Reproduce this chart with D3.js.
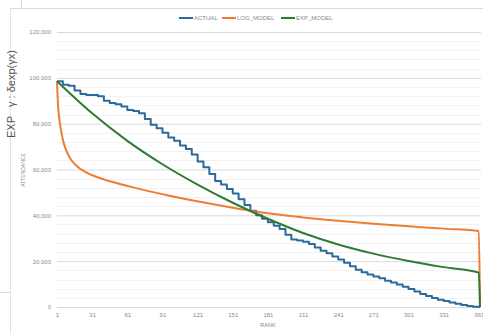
<!DOCTYPE html>
<html>
<head>
<meta charset="utf-8">
<script src="https://cdn.jsdelivr.net/npm/d3@7"></script>
<style>
    body { margin: 0; background: #fff; }
    text { font-family: "Liberation Sans", Arial, sans-serif; }
</style>
</head>
<body>
<div id="chart-area"></div>
<script>
/*
*    attendance vs rank, actual and two fitted models
*/

const yTicks = [0, 20000, 40000, 60000, 80000, 100000, 120000];
const xTicks = [1, 31, 61, 91, 121, 151, 181, 211, 241, 271, 301, 331, 361];
const seriesNames = ["ACTUAL", "LOG_MODEL", "EXP_MODEL"];

// ACTUAL sampled every 5 ranks (plus last rank)
const actualRank = [1, 6, 11, 16, 21, 26, 31, 36, 41, 46, 51, 56, 61, 66, 71, 76, 81, 86, 91, 96,
    101, 106, 111, 116, 121, 126, 131, 136, 141, 146, 151, 156, 161, 166, 171, 176, 181, 186, 191, 196,
    201, 206, 211, 216, 221, 226, 231, 236, 241, 246, 251, 256, 261, 266, 271, 276, 281, 286, 291, 296,
    301, 306, 311, 316, 321, 326, 331, 336, 341, 346, 351, 356, 361, 362];
const actualValue = [98500, 97000, 96500, 94500, 93000, 92500, 92500, 92000, 90000, 89000, 88500, 87500, 86000, 85500, 84500, 82000, 79500, 78000, 76000, 74000,
    72500, 70500, 69000, 66500, 63500, 61000, 58000, 55000, 53500, 51500, 49500, 47000, 44500, 42000, 40000, 38500, 37000, 35500, 34000, 31500,
    29500, 29000, 28500, 27500, 26000, 24500, 23500, 22000, 20700, 19300, 17800, 16300, 15200, 14200, 13300, 12500, 11500, 10700, 9800, 8800,
    7900, 6800, 5700, 4800, 3900, 3200, 2600, 2000, 1400, 900, 400, 100, 0, 0];

const logRank = [1, 2, 3, 4, 5, 6, 8, 11, 14, 19, 25, 38, 51, 66, 95, 123, 157, 181, 211, 241, 271, 301, 331, 361, 362];
const logValue = [98500, 87000, 82000, 78500, 75500, 73000, 69500, 66000, 63600, 61000, 59000, 56200, 54200, 52200, 48800, 45900, 42800, 40900, 39100, 37600, 36300, 35200, 34200, 33200, 0];

const expRank = [1, 31, 61, 91, 121, 151, 181, 211, 241, 271, 301, 331, 361, 362];
const expValue = [98500, 84500, 72500, 62300, 53400, 45500, 38500, 32300, 27300, 23300, 20100, 17400, 15000, 0];

const colors = ["#2c6a9c", "#ed7d31", "#317a33"];

const W = 483, H = 334;
const svg = d3.select("#chart-area").append("svg")
    .attr("width", W)
    .attr("height", H);

// cell / chart-frame leftovers of the screenshot
svg.append("line").attr("x1", 10).attr("x2", W).attr("y1", 8.5).attr("y2", 8.5)
    .attr("stroke", "#d9d9d9");
svg.append("line").attr("x1", 10.5).attr("x2", 10.5).attr("y1", 8).attr("y2", H)
    .attr("stroke", "#e3e3e3");
svg.append("line").attr("x1", 21.5).attr("x2", 21.5).attr("y1", 0).attr("y2", 8)
    .attr("stroke", "#d9d9d9");
svg.append("line").attr("x1", 0).attr("x2", 10).attr("y1", 292.5).attr("y2", 292.5)
    .attr("stroke", "#d9d9d9");

svg.append("text")
    .attr("transform", "translate(15, 138) rotate(-90)")
    .attr("font-size", 11)
    .attr("fill", "#555")
    .text("EXP");
svg.append("text")
    .attr("transform", "translate(15, 107) rotate(-90)")
    .attr("font-size", 11)
    .attr("fill", "#555")
    .text("γ : δexp(γx)");

const x = d3.scaleLinear()
    .domain([1, 362])
    .range([57, 480]);

const y = d3.scaleLinear()
    .domain([0, 120000])
    .range([307, 32]);

// minor gridlines
const minor = d3.range(4000, 120000, 4000).filter(d => d % 20000 !== 0);
svg.append("g").selectAll("line").data(minor).enter()
    .append("line")
    .attr("x1", 57).attr("x2", 481)
    .attr("y1", d => Math.round(y(d)) + 0.5).attr("y2", d => Math.round(y(d)) + 0.5)
    .attr("stroke", "#f2f2f2");

// major gridlines + y labels
const yAxisCall = d3.axisLeft(y)
    .tickValues(yTicks)
    .tickSize(-(481 - 57))
    .tickPadding(6)
    .tickFormat(d3.format(","));
const yAxis = svg.append("g")
    .attr("transform", "translate(57, 0)")
    .call(yAxisCall);
yAxis.select(".domain").remove();
yAxis.selectAll("line").attr("stroke", "#d9d9d9");
yAxis.selectAll("text")
    .attr("font-size", 6)
    .attr("fill", "#8a8a8a")
    .attr("font-family", "Liberation Sans, Arial, sans-serif");

const xAxisCall = d3.axisBottom(x)
    .tickValues(xTicks)
    .tickSize(0)
    .tickPadding(6)
    .tickFormat(d3.format("d"));
const xAxis = svg.append("g")
    .attr("transform", "translate(0, 307)")
    .call(xAxisCall);
xAxis.select(".domain").remove();
xAxis.selectAll("text")
    .attr("font-size", 6)
    .attr("fill", "#8a8a8a")
    .attr("font-family", "Liberation Sans, Arial, sans-serif");

svg.append("text")
    .attr("x", 268).attr("y", 327)
    .attr("text-anchor", "middle")
    .attr("font-size", 5.5)
    .attr("fill", "#8a8a8a")
    .text("RANK");

svg.append("text")
    .attr("transform", "translate(25, 170) rotate(-90)")
    .attr("text-anchor", "middle")
    .attr("font-size", 5)
    .attr("fill", "#8a8a8a")
    .text("ATTENDANCE");

// lines
const series = [
    { ranks: actualRank, values: actualValue, curve: d3.curveStepAfter },
    { ranks: logRank, values: logValue, curve: d3.curveMonotoneX },
    { ranks: expRank, values: expValue, curve: d3.curveMonotoneX }
];

series.forEach((s, i) => {
    const pts = s.ranks.map((r, j) => [r, s.values[j]]);
    const line = d3.line()
        .x(d => x(d[0]))
        .y(d => y(d[1]))
        .curve(s.curve);
    svg.append("path")
        .attr("d", line(pts))
        .attr("fill", "none")
        .attr("stroke", colors[i])
        .attr("stroke-width", 2)
        .attr("stroke-linejoin", "round");
});

// legend
const legendX = [179, 222, 281];
const legend = svg.append("g");
seriesNames.forEach((name, i) => {
    legend.append("line")
        .attr("x1", legendX[i]).attr("x2", legendX[i] + 14)
        .attr("y1", 18).attr("y2", 18)
        .attr("stroke", colors[i])
        .attr("stroke-width", 2);
    legend.append("text")
        .attr("x", legendX[i] + 15).attr("y", 20)
        .attr("font-size", 6)
        .attr("fill", "#8a8a8a")
        .text(name);
});
</script>
</body>
</html>
